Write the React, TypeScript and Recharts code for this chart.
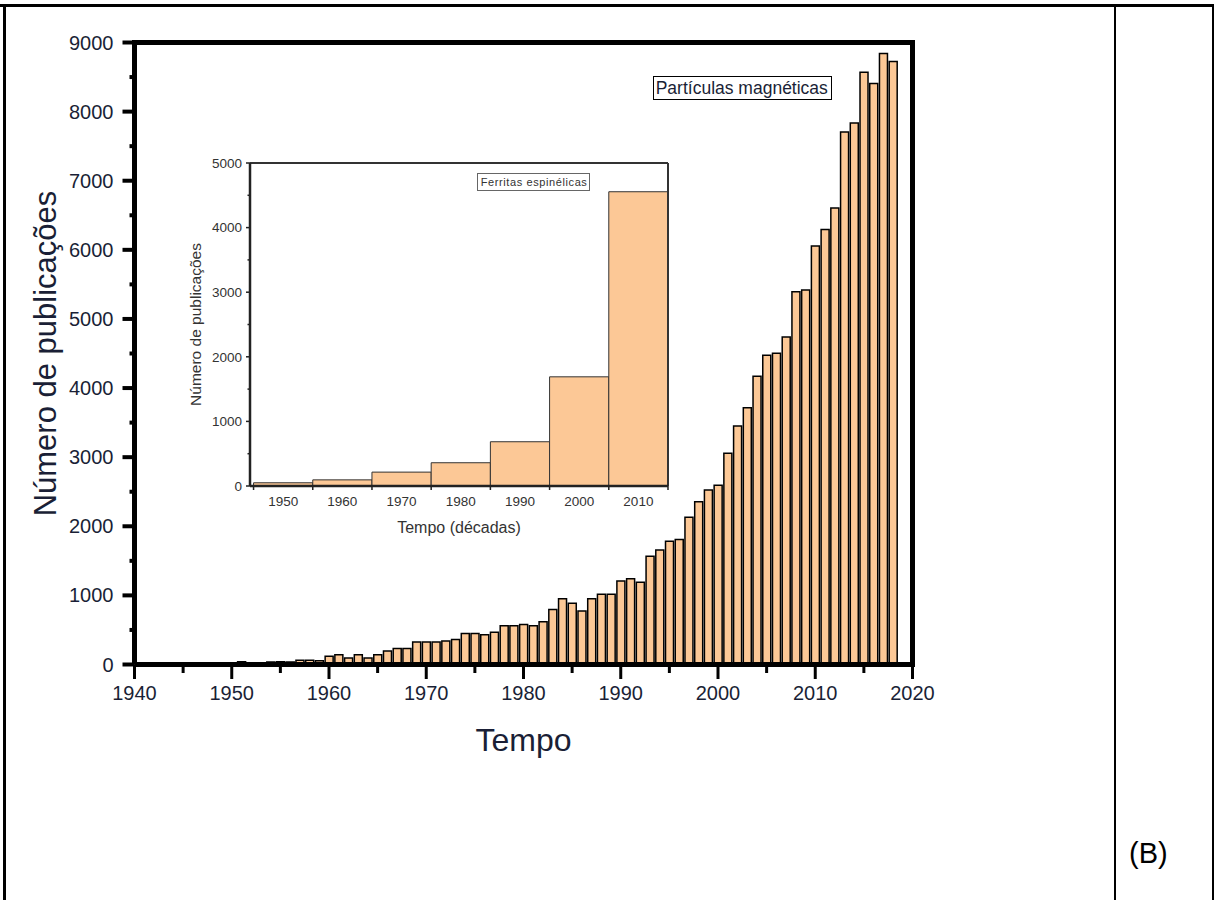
import { BarChart, Bar, XAxis, YAxis, ReferenceLine, Legend } from "recharts"

const FONT = "'Liberation Sans', Arial, Helvetica, sans-serif"
const TEXT = "#1a1f36"
const BAR_FILL = "#FCC896"

// main chart: publications per year ("Partículas magnéticas")
const years = [
  1951, 1952, 1953, 1954, 1955, 1956, 1957, 1958, 1959, 1960,
  1961, 1962, 1963, 1964, 1965, 1966, 1967, 1968, 1969, 1970,
  1971, 1972, 1973, 1974, 1975, 1976, 1977, 1978, 1979, 1980,
  1981, 1982, 1983, 1984, 1985, 1986, 1987, 1988, 1989, 1990,
  1991, 1992, 1993, 1994, 1995, 1996, 1997, 1998, 1999, 2000,
  2001, 2002, 2003, 2004, 2005, 2006, 2007, 2008, 2009, 2010,
  2011, 2012, 2013, 2014, 2015, 2016, 2017, 2018,
]
const counts = [
  40, 0, 0, 35, 40, 35, 60, 60, 55, 120,
  140, 95, 140, 95, 140, 195, 230, 230, 325, 325,
  325, 340, 360, 450, 450, 430, 465, 560, 560, 580,
  560, 620, 795, 950, 885, 775, 950, 1015, 1015, 1210,
  1240, 1190, 1565, 1655, 1785, 1810, 2130, 2355, 2525, 2595,
  3055, 3450, 3715, 4170, 4475, 4505, 4740, 5395, 5420, 6055,
  6295, 6605, 7705, 7835, 8570, 8405, 8840, 8725,
]
const mainXTicks = [1940, 1945, 1950, 1955, 1960, 1965, 1970, 1975, 1980, 1985, 1990, 1995, 2000, 2005, 2010, 2015, 2020]
const mainYTicks = [0, 500, 1000, 1500, 2000, 2500, 3000, 3500, 4000, 4500, 5000, 5500, 6000, 6500, 7000, 7500, 8000, 8500, 9000]

// inset: publications per decade ("Ferritas espinélicas")
const decades = [1950, 1960, 1970, 1980, 1990, 2000, 2010]
const decadeCounts = [50, 95, 215, 360, 685, 1690, 4555]
const insetXTicks = [1945, 1950, 1955, 1960, 1965, 1970, 1975, 1980, 1985, 1990, 1995, 2000, 2005, 2010, 2015]
const insetYTicks = [0, 500, 1000, 1500, 2000, 2500, 3000, 3500, 4000, 4500, 5000]

const mainData = years.map((year, i) => ({ year, count: counts[i] }))
const insetData = decades.map((decade, i) => ({ decade, count: decadeCounts[i] }))

const MX_TS = 12, MX_TM = 9.5
const MY_TS = 12, MY_TM = 9
const IX_TS = 4, IX_TM = 6
const IY_TS = 4, IY_TM = 4

function MainXTick(props: any) {
  const { x, y, payload } = props
  const ay = y - MX_TS - MX_TM
  const major = payload.value % 10 === 0
  return (
    <g>
      <line x1={x} x2={x} y1={ay} y2={ay + (major ? 14.5 : 8.5)} stroke="#000" strokeWidth={3} />
      {major && (
        <text x={x} y={y} dy="0.71em" textAnchor="middle" fontSize={20} fill={TEXT} fontFamily={FONT}>
          {payload.value}
        </text>
      )}
    </g>
  )
}

function MainYTick(props: any) {
  const { x, y, payload } = props
  const ax = x + MY_TS + MY_TM
  const major = payload.value % 1000 === 0
  return (
    <g>
      <line x1={ax} x2={ax - (major ? 12 : 5)} y1={y} y2={y} stroke="#000" strokeWidth={4} />
      {major && (
        <text x={x} y={y} dy="0.355em" textAnchor="end" fontSize={20} fill={TEXT} fontFamily={FONT}>
          {payload.value}
        </text>
      )}
    </g>
  )
}

function InsetXTick(props: any) {
  const { x, y, payload } = props
  const ay = y - IX_TS - IX_TM
  const label = payload.value % 10 === 0
  return (
    <g>
      {!label && <line x1={x} x2={x} y1={ay} y2={ay + 4} stroke="#222" strokeWidth={1.5} />}
      {label && (
        <text x={x} y={y} dy="0.71em" textAnchor="middle" fontSize={13.5} fill="#333" fontFamily={FONT}>
          {payload.value}
        </text>
      )}
    </g>
  )
}

function InsetYTick(props: any) {
  const { x, y, payload } = props
  const ax = x + IY_TS + IY_TM
  const major = payload.value % 1000 === 0
  return (
    <g>
      <line x1={ax} x2={ax - (major ? 4 : 2.5)} y1={y} y2={y} stroke="#222" strokeWidth={1.5} />
      {major && (
        <text x={x} y={y} dy="0.355em" textAnchor="end" fontSize={13.5} fill="#333" fontFamily={FONT}>
          {payload.value}
        </text>
      )}
    </g>
  )
}

const MainLegend = () => (
  <div
    style={{
      border: "1.5px solid #000",
      background: "#fff",
      fontSize: 17.5,
      lineHeight: "22px",
      padding: "0 2px",
      color: TEXT,
      fontFamily: FONT,
      whiteSpace: "nowrap",
      width: 179,
      boxSizing: "border-box",
    }}
  >
    Partículas magnéticas
  </div>
)

const InsetLegend = () => (
  <div
    style={{
      border: "1px solid #666",
      background: "#fff",
      fontSize: 11,
      lineHeight: "16px",
      paddingLeft: 3,
      letterSpacing: 0.6,
      color: "#333",
      fontFamily: FONT,
      whiteSpace: "nowrap",
      width: 113,
      boxSizing: "border-box",
    }}
  >
    Ferritas espinélicas
  </div>
)

const line = (left: number, top: number, width: number, height: number) => (
  <div style={{ position: "absolute", left, top, width, height, background: "#000" }} />
)

export default function App() {
  return (
    <div style={{ position: "absolute", left: 0, top: 0, width: 1214, height: 900, background: "#fff", fontFamily: FONT, overflow: "hidden" }}>
      {line(0, 4, 1214, 3)}
      {line(3, 4, 3, 896)}
      {line(1114, 4, 2, 896)}
      {line(1212, 4, 2, 896)}

      <div style={{ position: "absolute", left: 0, top: 0 }}>
        <BarChart width={1214} height={900} data={mainData} margin={{ top: 42.5, right: 301.5, bottom: 195, left: 34.5 }}>
          <XAxis
            dataKey="year"
            type="number"
            domain={[1940, 2020]}
            ticks={mainXTicks}
            interval={0}
            height={40.5}
            tickSize={MX_TS}
            tickMargin={MX_TM}
            tickLine={false}
            axisLine={{ stroke: "#000", strokeWidth: 5 }}
            tick={(p: any) => <MainXTick {...p} />}
            label={{ value: "Tempo", position: "bottom", offset: 23, style: { fontSize: 32, fill: TEXT, fontFamily: FONT } }}
          />
          <YAxis
            type="number"
            domain={[0, 9000]}
            ticks={mainYTicks}
            interval={0}
            width={100}
            tickSize={MY_TS}
            tickMargin={MY_TM}
            tickLine={false}
            axisLine={{ stroke: "#000", strokeWidth: 5 }}
            tick={(p: any) => <MainYTick {...p} />}
            label={{
              value: "Número de publicações",
              angle: -90,
              position: "insideLeft",
              offset: 10,
              style: { textAnchor: "middle", fontSize: 31, fill: TEXT, fontFamily: FONT },
            }}
          />
          <ReferenceLine y={9000} stroke="#000" strokeWidth={5} strokeLinecap="square" />
          <ReferenceLine x={2020} stroke="#000" strokeWidth={5} strokeLinecap="square" />
          <Bar dataKey="count" fill={BAR_FILL} stroke="#000" strokeWidth={1.5} barSize={8} isAnimationActive={false} />
          <Legend
            layout="vertical"
            align="center"
            verticalAlign="middle"
            content={() => <MainLegend />}
            wrapperStyle={{ left: 652.7, top: 76, width: "auto", height: "auto" }}
          />
        </BarChart>
      </div>

      <div style={{ position: "absolute", left: 180, top: 140 }}>
        <BarChart width={510} height={420} data={insetData} margin={{ top: 23, right: 22, bottom: 44, left: 10 }}>
          <XAxis
            dataKey="decade"
            type="number"
            domain={[1944.4, 2015]}
            ticks={insetXTicks}
            interval={0}
            height={30}
            tickSize={IX_TS}
            tickMargin={IX_TM}
            tickLine={false}
            axisLine={{ stroke: "#222", strokeWidth: 2.5 }}
            tick={(p: any) => <InsetXTick {...p} />}
            label={{ value: "Tempo (décadas)", position: "bottom", offset: 6, style: { fontSize: 16, fill: "#333", fontFamily: FONT } }}
          />
          <YAxis
            type="number"
            domain={[0, 5000]}
            ticks={insetYTicks}
            interval={0}
            width={60}
            tickSize={IY_TS}
            tickMargin={IY_TM}
            tickLine={false}
            axisLine={{ stroke: "#222", strokeWidth: 2.5 }}
            tick={(p: any) => <InsetYTick {...p} />}
            label={{
              value: "Número de publicações",
              angle: -90,
              position: "insideLeft",
              offset: 5.3,
              style: { textAnchor: "middle", fontSize: 15.5, fill: "#333", fontFamily: FONT },
            }}
          />
          <ReferenceLine y={5000} stroke="#333" strokeWidth={2} />
          <ReferenceLine x={2015} stroke="#333" strokeWidth={2} />
          <Bar dataKey="count" fill={BAR_FILL} stroke="#333" strokeWidth={1} barSize={59.2} isAnimationActive={false} />
          <Legend
            layout="vertical"
            align="center"
            verticalAlign="middle"
            content={() => <InsetLegend />}
            wrapperStyle={{ left: 296.7, top: 33.3, width: "auto", height: "auto" }}
          />
        </BarChart>
      </div>

      <div style={{ position: "absolute", left: 1129, top: 838.7, fontSize: 29, lineHeight: 1, color: "#000", fontFamily: FONT }}>
        (B)
      </div>
    </div>
  )
}
